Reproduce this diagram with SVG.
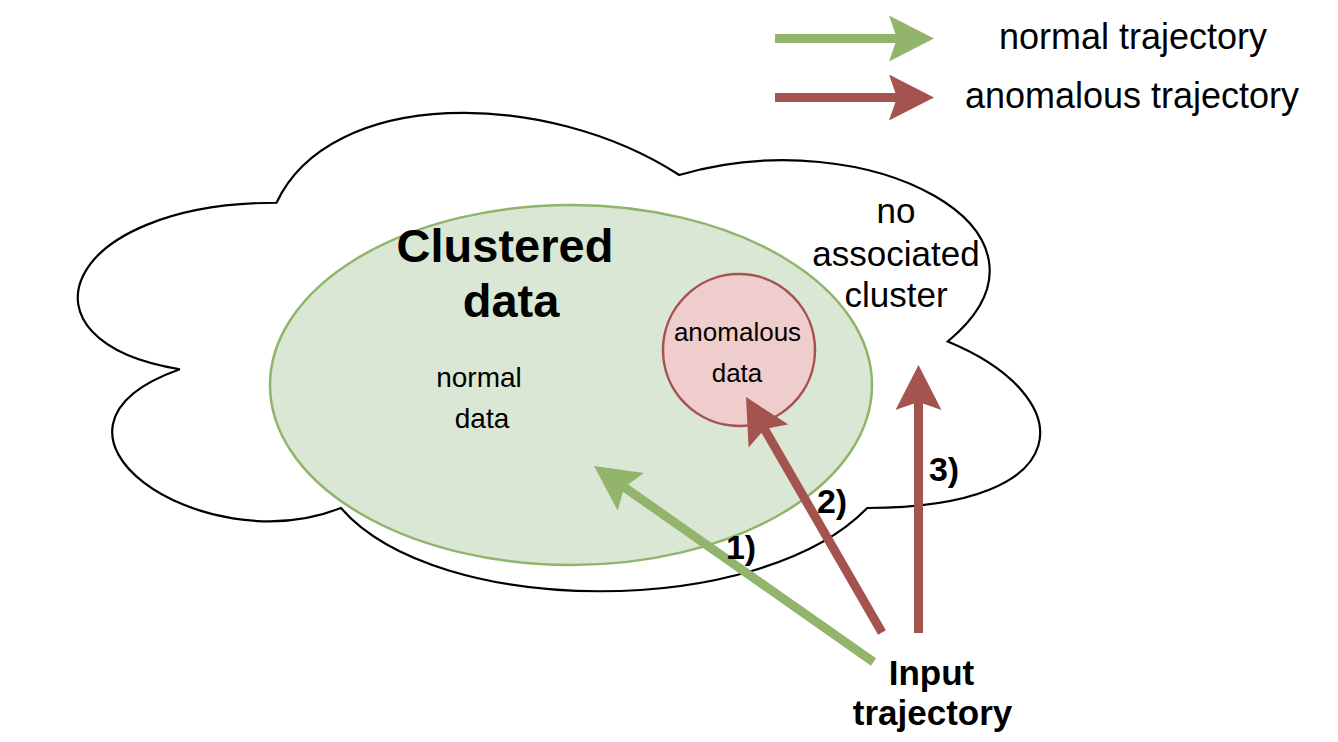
<svg xmlns="http://www.w3.org/2000/svg" width="1338" height="742" viewBox="0 0 1338 742">
<style>
.t{font-family:"Liberation Sans",Arial,Helvetica,sans-serif;fill:#000;text-anchor:middle}
.b{font-weight:bold}
.g{stroke:#93b46b;stroke-width:9;fill:none}
.r{stroke:#a5534f;stroke-width:9;fill:none}
</style>
<defs>
<marker id="hg" markerUnits="userSpaceOnUse" viewBox="0 0 46 46" markerWidth="46" markerHeight="46" refX="8" refY="23" orient="auto">
<path d="M45,23 L0,0 L8,23 L0,46 Z" fill="#93b46b"/>
</marker>
<marker id="hr" markerUnits="userSpaceOnUse" viewBox="0 0 46 46" markerWidth="46" markerHeight="46" refX="8" refY="23" orient="auto">
<path d="M45,23 L0,0 L8,23 L0,46 Z" fill="#a5534f"/>
</marker>
</defs>
<rect width="1338" height="742" fill="#fff"/>
<g id="cloud">
<path d="M276.5,202.75 C61.7,202.75 8,341.5 179.84,369.25 C8,430.3 201.32,563.5 340.94,508 C437.6,619 759.8,619 867.2,508 C1082,508 1082,397 947.75,341.5 C1082,230.5 867.2,119.5 679.25,175 C545,88 330.2,88 276.5,202.75 Z" fill="#fff" stroke="#000" stroke-width="2.2"/>
<text class="t" font-size="35" x="896" y="223">no</text>
<text class="t" font-size="35" x="896" y="266">associated</text>
<text class="t" font-size="35" x="896" y="307">cluster</text>
</g>
<g id="clustered">
<ellipse cx="571" cy="385" rx="301" ry="180" fill="#dae7d5" stroke="#8fb46a" stroke-width="2.5"/>
<text class="t b" font-size="47" x="505" y="262">Clustered</text>
<text class="t b" font-size="47" x="511" y="317">data</text>
<text class="t" font-size="28" x="479" y="387">normal</text>
<text class="t" font-size="28" x="482" y="428">data</text>
</g>
<g id="anomalous">
<circle cx="739" cy="350" r="76" fill="#eecdcc" stroke="#a5534f" stroke-width="2.5"/>
<text class="t" font-size="26" x="737.5" y="341">anomalous</text>
<text class="t" font-size="26" x="737" y="382">data</text>
</g>
<g id="input">
<text class="t b" font-size="35" x="931.5" y="685">Input</text>
<text class="t b" font-size="35" x="932.5" y="725">trajectory</text>
</g>
<g id="legend">
<text class="t" font-size="36" x="1133" y="49">normal trajectory</text>
<text class="t" font-size="36" x="1132" y="108">anomalous trajectory</text>
</g>
<g id="connectors">
<line class="g" x1="775" y1="38.5" x2="897" y2="38.5" marker-end="url(#hg)"/>
<line class="r" x1="775" y1="97.5" x2="897" y2="97.5" marker-end="url(#hr)"/>
<line class="g" x1="873.5" y1="662" x2="624.3" y2="487.2" marker-end="url(#hg)"/>
<line class="r" x1="882" y1="632.5" x2="764.5" y2="429.1" marker-end="url(#hr)"/>
<line class="r" x1="918.5" y1="633" x2="918.5" y2="402" marker-end="url(#hr)"/>
</g>
<g id="labels">
<text class="t b" font-size="34" x="741" y="559">1)</text>
<text class="t b" font-size="34" x="832" y="513">2)</text>
<text class="t b" font-size="34" x="944" y="481">3)</text>
</g>
</svg>
